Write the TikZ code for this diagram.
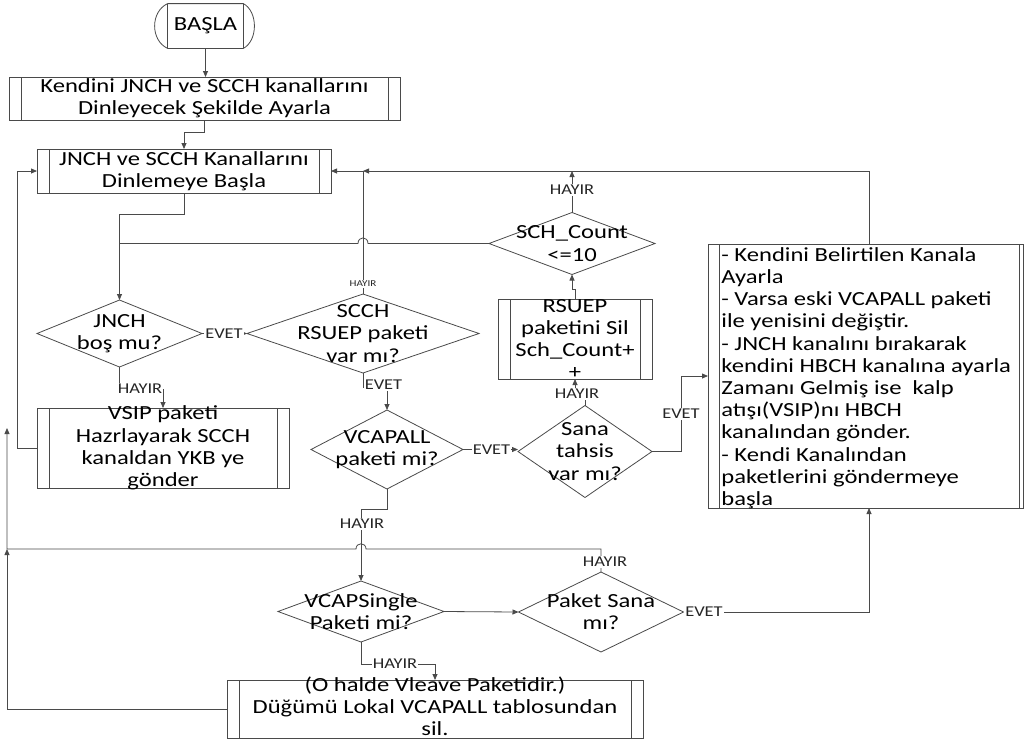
\documentclass[tikz,border=0pt]{standalone}
\usepackage{fontspec}
\setmainfont{Carlito}[FakeStretch=1.23]
\usetikzlibrary{arrows.meta,shapes.geometric}
\definecolor{lc}{HTML}{4A4A4A}
\tikzset{
  sub/.style 2 args={rectangle, draw=lc, inner sep=0pt, outer sep=0pt,
    path picture={\draw[lc,line width=0.8pt] ([xshift=#1]path picture bounding box.north west) -- ([xshift=#1]path picture bounding box.south west)
      ([xshift=-#2]path picture bounding box.north east) -- ([xshift=-#2]path picture bounding box.south east);}},
  dia/.style 2 args={diamond, draw=lc, inner sep=0pt, outer sep=0pt, minimum width=#1, minimum height=#2},
  txt/.style={font=\fontsize{20}{22.2}\selectfont, align=center, text=black, inner sep=0pt},
  lbl/.style={font=\fontsize{15}{16}\selectfont, fill=white, inner sep=1pt, text=black!85},
  slbl/.style={font=\fontsize{9}{10}\selectfont, fill=white, inner sep=1pt, text=black!85},
  con/.style={draw=lc, -{Triangle[length=6pt,width=5pt]}},
  ln/.style={draw=lc}
}
\begin{document}
\begin{tikzpicture}[x=1pt,y=-1pt,line width=0.8pt]
\fill[white] (0,0) rectangle (1025,740);
\useasboundingbox (0,0) rectangle (1025,740);

% start terminator
\node[txt, minimum width=75, minimum height=44] (start) at (205.5,26) {BAŞLA};
\draw[lc] (start.north west) -- (start.north east) .. controls +(14.7,8) and +(14.7,-8) .. (start.south east)
  -- (start.south west) .. controls +(-17.3,-8) and +(-17.3,8) .. (start.north west);
\draw[lc] (start.north west) -- (start.south west) (start.north east) -- (start.south east);

% process boxes
\node[sub={12pt}{12pt}, minimum width=391, minimum height=43] (b1) at (204.5,98.5) {};
\node[txt] (b1t) at (b1.center) {Kendini JNCH ve SCCH kanallarını\\Dinleyecek Şekilde Ayarla};

\node[sub={12pt}{12pt}, minimum width=294, minimum height=44] (b2) at (184,171) {};
\node[txt] (b2t) at (b2.center) {JNCH ve SCCH Kanallarını\\Dinlemeye Başla};

\node[sub={12pt}{12pt}, minimum width=252, minimum height=80] (vsip) at (163,448) {};
\node[txt] (vsipt) at (vsip.center) {VSIP paketi\\Hazrlayarak SCCH\\kanaldan YKB ye\\gönder};

\node[sub={12pt}{12pt}, minimum width=154, minimum height=80] (rsuep) at (575,339) {};
\node[txt] (rsuept) at (rsuep.center) {RSUEP\\paketini Sil\\Sch\_Count+\\+};

\node[sub={11pt}{4pt}, minimum width=315, minimum height=264] (big) at (865.5,376) {};
\node[txt, align=left, anchor=north west] (bigt) at (721,247) {- Kendini Belirtilen Kanala\\Ayarla\\- Varsa eski VCAPALL paketi\\ile yenisini değiştir.\\- JNCH kanalını bırakarak\\kendini HBCH kanalına ayarla\\Zamanı Gelmiş ise\ \ kalp\\atışı(VSIP)nı HBCH\\kanalından gönder.\\- Kendi Kanalından\\paketlerini göndermeye\\başla};

\node[sub={12pt}{12pt}, minimum width=416, minimum height=58] (ohalde) at (435,709) {};
\node[txt] (ohaldet) at ([yshift=3pt]ohalde.center) {(O halde Vleave Paketidir.)\\Düğümü Lokal VCAPALL tablosundan\\sil.};

% decisions
\node[dia={165}{67}] (jnch) at (119.5,333.5) {};
\node[txt] (jncht) at (jnch.center) {JNCH\\boş mu?};
\node[dia={232}{79}] (scch) at (363,333.5) {};
\node[txt] (saccht) at (scch.center) {SCCH\\RSUEP paketi\\var mı?};
\node[dia={152}{79}] (vcapall) at (387,449.5) {};
\node[txt] (vcapallt) at (vcapall.center) {VCAPALL\\paketi mi?};
\node[dia={134}{92}] (sana) at (585,451.5) {};
\node[txt] (sanat) at (sana.center) {Sana\\tahsis\\var mı?};
\node[dia={166}{62}] (schc) at (572,243.5) {};
\node[txt] (schct) at (schc.center) {SCH\_Count\\<=10};
\node[dia={166}{61}] (vcaps) at (361,611.5) {};
\node[txt] (vcapst) at (vcaps.center) {VCAPSingle\\Paketi mi?};
\node[dia={165}{80}] (paket) at (601,612) {};
\node[txt] (pakett) at (paket.center) {Paket Sana\\mı?};

% connectors
\draw[con] (start.south) -- (start.south |- b1.north);
\draw[con] (b1.south) -- ++(0,12) -| (b2.north);
\draw[con] (b2.south) -- ++(0,21) -| (jnch.north);
\coordinate (jv) at (jnch.north |- schc.west);
\draw[ln] (schc.west) -- (368,243.5) .. controls (368,236) and (358,236) .. (358,243.5) -- (jv);
\draw[con] (jnch.east) -- (scch.west);
\draw[con] (scch.north) -- (scch.north |- b2.east) -- (b2.east);
\draw[con] ([xshift=3.5pt]big.north) |- (scch.north |- b2.east);
\draw[con] (schc.north) -- (schc.north |- b2.east);
\draw[con] (jnch.south) -- ++(0,22) -| (vsip.north);
\draw[con] (vsip.west) -- ++(-20,0) |- (b2.west);
\draw[con] (scch.south) -- ++(0,14) -| (vcapall.north);
\draw[con] (vcapall.east) -- (vcapall.east -| sana.west);
\draw[con] (sana.north) -- ++(0,-12) -| (rsuep.south);
\draw[con] (rsuep.north) -- ++(0,-10) -| (schc.south);
\draw[con] (sana.east) -- ++(29,0) |- (big.west);
\draw[con] (vcapall.south) -- ++(0,20) -| (vcaps.north);
\coordinate (dangle) at (7,428);
\coordinate (lj) at (7,549);
\draw[con] (paket.north) -- (paket.north |- lj) -- (366,549) .. controls (366,542) and (356,542) .. (356,549) -- (lj) -- (dangle);
\draw[con] (vcaps.east) -- (paket.west);
\draw[con] (paket.east) -| ([xshift=3.5pt]big.south);
\draw[con] (vcaps.south) -- ++(0,22) -| (ohalde.north);
\draw[con] (ohalde.west) -| (lj);

% labels
\node[lbl] (e1) at (224,333.5) {EVET};
\node[slbl] (h1) at (363,284) {HAYIR};
\node[lbl] (h2) at (572,190) {HAYIR};
\node[lbl] (h3) at (140,389) {HAYIR};
\node[lbl] (e2) at (383.5,385) {EVET};
\node[lbl] (e3) at (491.5,449.5) {EVET};
\node[lbl] (h4) at (577,394) {HAYIR};
\node[lbl] (e4) at (681,414) {EVET};
\node[lbl] (h5) at (362,524) {HAYIR};
\node[lbl] (h6) at (605,562) {HAYIR};
\node[lbl] (e5) at (704,612) {EVET};
\node[lbl] (h7) at (395,664) {HAYIR};
\end{tikzpicture}
\end{document}
